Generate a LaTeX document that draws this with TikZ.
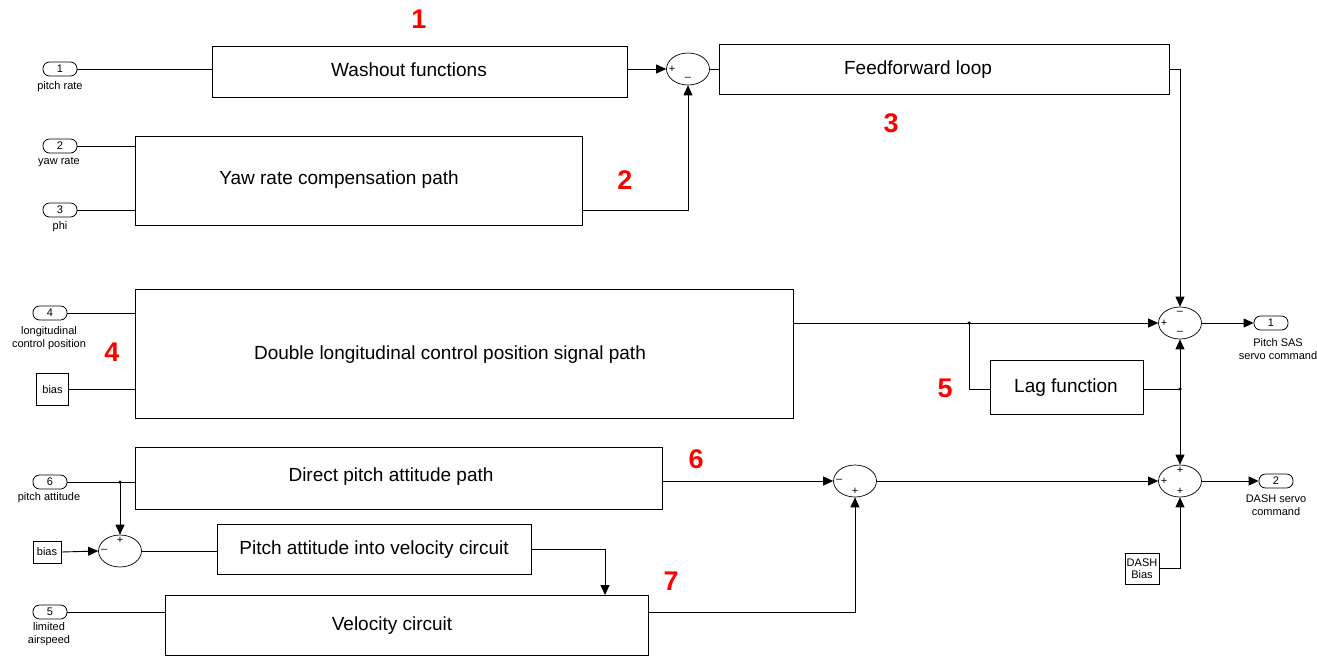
\documentclass[tikz,border=0pt]{standalone}
\usepackage{fontspec}
\setmainfont{Liberation Sans}
\usetikzlibrary{arrows.meta,shapes.geometric}
\begin{document}
\begin{tikzpicture}[x=1pt,y=-1pt,
  blk/.style={draw,line width=0.9pt,inner sep=0pt},
  txt/.style={inner sep=0pt,font=\fontsize{19}{22}\selectfont},
  port/.style={draw,line width=0.8pt,rounded corners=6.5pt,minimum width=34,minimum height=14,inner sep=0pt,font=\fontsize{11}{11}\selectfont},
  cst/.style={draw,line width=0.8pt,inner sep=0pt,align=center,font=\fontsize{11}{12.5}\selectfont},
  lbl/.style={inner sep=0pt,align=center,font=\fontsize{11}{13}\selectfont},
  sum/.style={draw,ellipse,line width=0.7pt,minimum width=43,minimum height=32,inner sep=0pt},
  sg/.style={inner sep=0pt,font=\fontsize{11}{11}\selectfont},
  num/.style={inner sep=0pt,text=red,font=\fontsize{27}{27}\selectfont\bfseries},
  wire/.style={line width=0.9pt},
  arr/.style={wire,-{Triangle[length=10pt,width=9pt]}},
  dot/.style={circle,fill,inner sep=0pt,minimum size=3.5pt}]
\useasboundingbox (0,0) rectangle (1317,657);
% red numbers
\node[num] (n1) at (419,19) {1};
\node[num] (n2) at (625,180) {2};
\node[num] (n3) at (891,123) {3};
\node[num] (n4) at (112,352) {4};
\node[num] (n5) at (945,388) {5};
\node[num] (n6) at (696,459) {6};
\node[num] (n7) at (671,581) {7};
% inports
\node[port] (in1) at (60,69) {1};
\node[lbl] (l1) at (60,87) {pitch rate};
\node[port] (in2) at (60,146) {2};
\node[lbl] (l2) at (59,162) {yaw rate};
\node[port] (in3) at (60,210) {3};
\node[lbl] (l3) at (60,227) {phi};
\node[port] (in4) at (50,313) {4};
\node[lbl] (l4) at (49,338) {longitudinal\\control position};
\node[cst,minimum width=32,minimum height=32] (bias1) at (52.5,389.5) {bias};
\node[port] (in6) at (50,482) {6};
\node[lbl] (l6) at (49,498) {pitch attitude};
\node[cst,minimum width=28,minimum height=22] (bias2) at (47,552) {bias};
\node[port] (in5) at (50,612) {5};
\node[lbl] (l5) at (49,634.5) {limited\\airspeed};
% blocks
\node[blk,minimum width=415,minimum height=51] (wash) at (419.5,71.5) {};
\node[txt] (twash) at (409,70) {Washout functions};
\node[blk,minimum width=450,minimum height=50] (ff) at (944,69) {};
\node[txt] (tff) at (918,70) {Feedforward loop};
\node[blk,minimum width=447,minimum height=89] (yaw) at (358.5,180.5) {};
\node[txt] (tyaw) at (339,180) {Yaw rate compensation path};
\node[blk,minimum width=658,minimum height=129] (dbl) at (464,353.5) {};
\node[txt] (tdbl) at (450,355) {Double longitudinal control position signal path};
\node[blk,minimum width=153,minimum height=54] (lag) at (1066.5,387) {};
\node[txt] (tlag) at (1066,388) {Lag function};
\node[blk,minimum width=527,minimum height=62] (dir) at (398.5,478) {};
\node[txt] (tdir) at (391,477) {Direct pitch attitude path};
\node[blk,minimum width=314,minimum height=50] (pav) at (374,549) {};
\node[txt] (tpav) at (374,550) {Pitch attitude into velocity circuit};
\node[blk,minimum width=483,minimum height=60] (vel) at (406.5,625) {};
\node[txt] (tvel) at (392,626) {Velocity circuit};
\node[cst,minimum width=34,minimum height=31] (dbias) at (1142,568.5) {DASH\\Bias};
% sums
\node[sum] (s1) at (688,69) {};
\node[sg] at ([xshift=6]s1.west) {+};
\node[sg] at ([yshift=6]s1.south) {\textendash};
\node[sum] (s3) at (120,551) {};
\node[sg] at ([yshift=-6]s3.north) {+};
\node[sg] at ([xshift=6]s3.west) {\textendash};
\node[sum] (s4) at (855,481) {};
\node[sg] at ([xshift=6]s4.west) {\textendash};
\node[sg] at ([yshift=6]s4.south) {+};
\node[sum] (sas) at (1180,323) {};
\node[sg] at ([yshift=-6]sas.north) {\textendash};
\node[sg] at ([xshift=6]sas.west) {+};
\node[sg] at ([yshift=6]sas.south) {\textendash};
\node[sum] (dash) at (1180,481) {};
\node[sg] at ([yshift=-6]dash.north) {+};
\node[sg] at ([xshift=6]dash.west) {+};
\node[sg] at ([yshift=6]dash.south) {+};
% outports
\node[port] (out1) at (1271,323) {1};
\node[lbl] (lo1) at (1278,349) {Pitch SAS\\servo command};
\node[port] (out2) at (1276,481) {2};
\node[lbl] (lo2) at (1276,505) {DASH servo\\command};
% junctions
\coordinate (j1) at (969,323);
\coordinate (j2) at (1180,389);
\coordinate (j3) at (120,482);
\coordinate (vin) at (605,595);
\node[dot] at (j1) {};
\node[dot] at (j2) {};
\node[dot] at (j3) {};
% wires
\draw[wire] (in1.east) -- (in1.east -| wash.west);
\draw[arr] (wash.east |- s1.west) -- (s1.west);
\draw[wire] (s1.east) -- (s1.east -| ff.west);
\draw[wire] (in2.east) -- (in2.east -| yaw.west);
\draw[wire] (in3.east) -- (in3.east -| yaw.west);
\draw[arr] (yaw.east |- in3.east) -| (s1.south);
\draw[arr] (ff.east) -| (sas.north);
\draw[wire] (in4.east) -- (in4.east -| dbl.west);
\draw[wire] (bias1.east) -- (bias1.east -| dbl.west);
\draw[arr] (dbl.east |- j1) -- (sas.west);
\draw[wire] (j1) |- (lag.west |- j2);
\draw[wire] (lag.east |- j2) -- (j2);
\draw[arr] (j2) -- (sas.south);
\draw[arr] (j2) -- (dash.north);
\draw[arr] (sas.east) -- (out1.west);
\draw[arr] (dash.east) -- (out2.west);
\draw[arr] (dbias.east) -| (dash.south);
\draw[wire] (in6.east) -- (in6.east -| dir.west);
\draw[arr] (j3) -- (s3.north);
\draw[arr] (bias2.east) -- (s3.west);
\draw[wire] (s3.east) -- (s3.east -| pav.west);
\draw[arr] (pav.east) -| (vin);
\draw[wire] (in5.east) -- (in5.east -| vel.west);
\draw[arr] (vel.east |- in5.east) -| (s4.south);
\draw[arr] (dir.east |- s4.west) -- (s4.west);
\draw[arr] (s4.east) -- (dash.west);
\end{tikzpicture}
\end{document}
